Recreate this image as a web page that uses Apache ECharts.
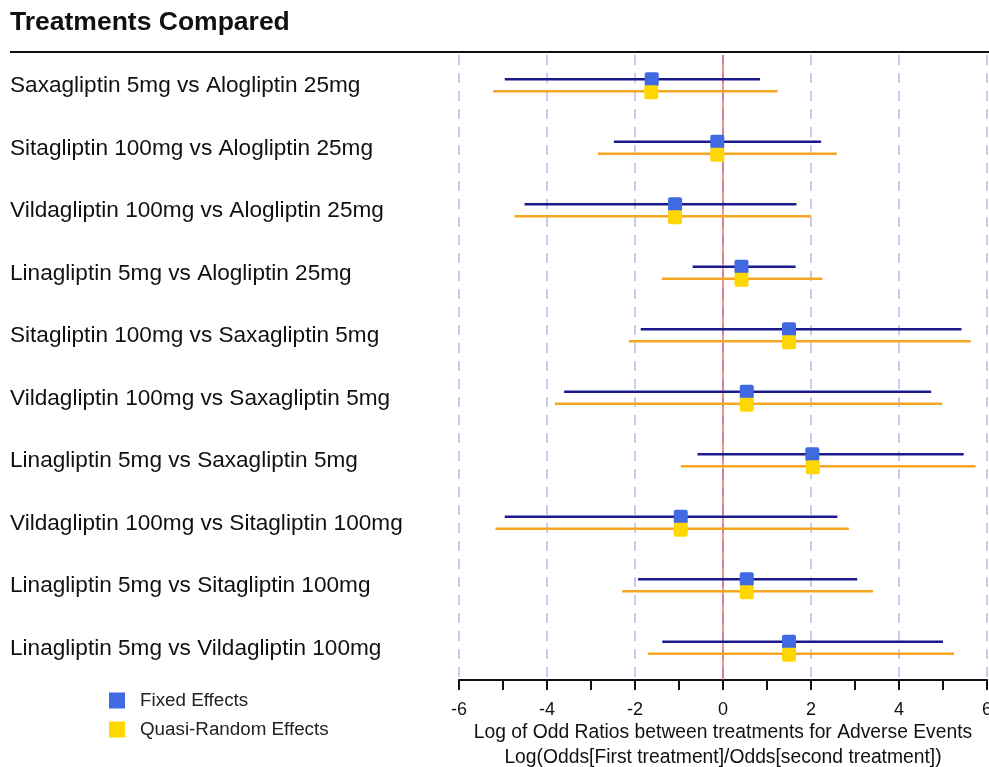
<!DOCTYPE html>
<html>
<head>
<meta charset="utf-8">
<script src="https://cdn.jsdelivr.net/npm/echarts@6/dist/echarts.min.js"></script>
<style>
  html, body { margin: 0; padding: 0; background: #fff; }
  #chart { width: 989px; height: 767px; }
</style>
</head>
<body>
<div id="chart"></div>
<script>
// Pairwise comparisons (first treatment vs second treatment)
const comparisons = [
  'Saxagliptin 5mg vs Alogliptin 25mg',
  'Sitagliptin 100mg vs Alogliptin 25mg',
  'Vildagliptin 100mg vs Alogliptin 25mg',
  'Linagliptin 5mg vs Alogliptin 25mg',
  'Sitagliptin 100mg vs Saxagliptin 5mg',
  'Vildagliptin 100mg vs Saxagliptin 5mg',
  'Linagliptin 5mg vs Saxagliptin 5mg',
  'Vildagliptin 100mg vs Sitagliptin 100mg',
  'Linagliptin 5mg vs Sitagliptin 100mg',
  'Linagliptin 5mg vs Vildagliptin 100mg'
];

// Fixed effects: log odds ratio estimate with lower / upper interval bounds
const fixedEst   = [-1.62, -0.13, -1.09, 0.42, 1.50, 0.54, 2.03, -0.96, 0.54, 1.50];
const fixedLow   = [-4.96, -2.48, -4.51, -0.69, -1.87, -3.61, -0.58, -4.96, -1.93, -1.38];
const fixedHigh  = [0.84, 2.23, 1.67, 1.65, 5.42, 4.73, 5.47, 2.60, 3.05, 5.00];

// Quasi-random effects: estimate with lower / upper interval bounds
const randomEst  = [-1.63, -0.13, -1.09, 0.42, 1.50, 0.54, 2.04, -0.96, 0.54, 1.50];
const randomLow  = [-5.22, -2.84, -4.74, -1.39, -2.14, -3.82, -0.96, -5.17, -2.29, -1.71];
const randomHigh = [1.24, 2.59, 2.00, 2.26, 5.63, 4.98, 5.74, 2.86, 3.41, 5.25];

// Axis ticks and the no-difference reference value
const xTicks = [-6, -4, -2, 0, 2, 4, 6];
const referenceValue = [0];

const FONT = '"Liberation Sans", Arial, sans-serif';

function rows(low, high, est) {
  return comparisons.map((name, i) => [low[i], high[i], est[i], i]);
}

// Interval line with a square marker at the estimate, shifted within the row band
function intervalRenderer(lineColor, boxColor, lineShift, boxShift) {
  return function (params, api) {
    const cat = api.value(3);
    const lo = api.coord([api.value(0), cat]);
    const hi = api.coord([api.value(1), cat]);
    const mid = api.coord([api.value(2), cat]);
    const box = 14;
    return {
      type: 'group',
      children: [
        {
          type: 'line',
          shape: { x1: lo[0], y1: lo[1] + lineShift, x2: hi[0], y2: hi[1] + lineShift },
          style: { stroke: lineColor, lineWidth: 2.5 }
        },
        {
          type: 'rect',
          shape: { x: mid[0] - box / 2, y: mid[1] + boxShift - box / 2, width: box, height: box, r: 2 },
          style: { fill: boxColor }
        }
      ]
    };
  };
}

// Vertical line at the reference value spanning the full plot height
function referenceRenderer(params, api) {
  const cs = params.coordSys;
  const x = api.coord([api.value(0), 0])[0];
  return {
    type: 'line',
    shape: { x1: x, y1: cs.y, x2: x, y2: cs.y + cs.height },
    style: { stroke: '#d9534f', lineWidth: 1.2 }
  };
}

const chart = echarts.init(document.getElementById('chart'), null, { renderer: 'canvas' });

chart.setOption({
  animation: false,
  backgroundColor: '#ffffff',
  title: {
    text: 'Treatments Compared',
    left: 5,
    top: 4,
    textStyle: { fontFamily: FONT, fontSize: 26.5, fontWeight: 'bold', color: '#111' }
  },
  graphic: [
    {
      type: 'line',
      shape: { x1: 10, y1: 52, x2: 989, y2: 52 },
      style: { stroke: '#111', lineWidth: 2 }
    }
  ],
  legend: {
    orient: 'vertical',
    left: 109,
    top: 691,
    padding: 0,
    icon: 'rect',
    itemWidth: 16,
    itemHeight: 16,
    itemGap: 10,
    textStyle: { fontFamily: FONT, fontSize: 18.8, color: '#222', padding: [0, 0, 0, 10] },
    data: ['Fixed Effects', 'Quasi-Random Effects']
  },
  grid: { left: 459, right: 2, top: 55, bottom: 87, containLabel: false, outerBoundsMode: 'none' },
  xAxis: {
    type: 'value',
    min: -6,
    max: 6,
    interval: 2,
    axisLine: { show: true, onZero: false, lineStyle: { color: '#111', width: 2 } },
    axisTick: { show: true, length: 10, lineStyle: { color: '#111', width: 2 } },
    minorTick: { show: true, splitNumber: 2, length: 10, lineStyle: { color: '#111', width: 2 } },
    axisLabel: {
      fontFamily: FONT, fontSize: 18, color: '#111', margin: 21,
      customValues: xTicks
    },
    splitLine: { show: true, lineStyle: { color: '#c9c9f2', width: 2, type: [10, 8] } },
    name: 'Log of Odd Ratios between treatments for Adverse Events\nLog(Odds[First treatment]/Odds[second treatment])',
    nameLocation: 'middle',
    nameGap: 40,
    nameMoveOverlap: false,
    nameTextStyle: { fontFamily: FONT, fontSize: 19.3, color: '#111', lineHeight: 25 }
  },
  yAxis: {
    type: 'category',
    inverse: true,
    data: comparisons,
    axisLine: { show: false },
    axisTick: { show: false },
    splitLine: { show: false },
    axisLabel: {
      fontFamily: FONT, fontSize: 22.6, color: '#111',
      align: 'left', margin: 449, padding: [3, 0, 0, 0]
    }
  },
  series: [
    {
      name: 'Zero',
      type: 'custom',
      renderItem: referenceRenderer,
      encode: { x: 0 },
      data: referenceValue.map(v => [v]),
      silent: true,
      z: 2
    },
    {
      name: 'Fixed Effects',
      type: 'custom',
      itemStyle: { color: '#4169E1' },
      encode: { x: [0, 1, 2], y: 3 },
      renderItem: intervalRenderer('#1a1a8c', '#4169E1', -7, -7),
      data: rows(fixedLow, fixedHigh, fixedEst),
      z: 3
    },
    {
      name: 'Quasi-Random Effects',
      type: 'custom',
      itemStyle: { color: '#FFD700' },
      encode: { x: [0, 1, 2], y: 3 },
      renderItem: intervalRenderer('#F5A623', '#FFD700', 5, 6),
      data: rows(randomLow, randomHigh, randomEst),
      z: 4
    }
  ]
});
</script>
</body>
</html>
